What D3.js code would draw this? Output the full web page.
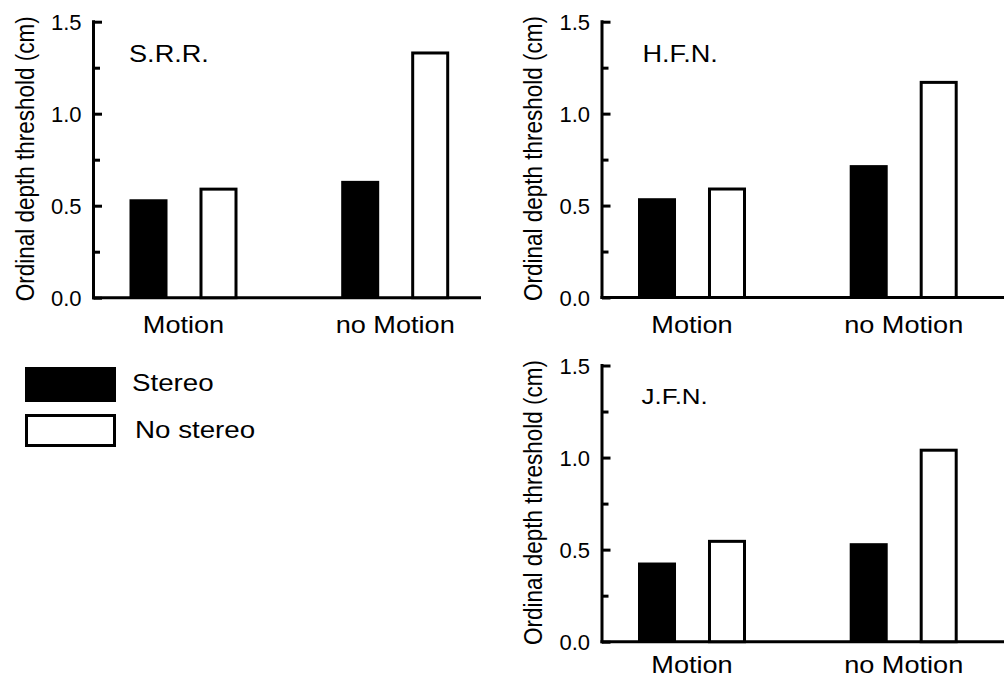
<!DOCTYPE html>
<html>
<head>
<meta charset="utf-8">
<script src="https://cdn.jsdelivr.net/npm/d3@7"></script>
<style>
  body { margin: 0; background: #fff; }
  svg text { font-family: "Liberation Sans", Arial, Helvetica, sans-serif; fill: #000; }
</style>
</head>
<body>
<svg id="chart" width="1004" height="680"></svg>
<script>
// categories and series
var groups = ["Motion", "no Motion"];
var seriesNames = ["Stereo", "No stereo"];
var subjects = ["S.R.R.", "H.F.N.", "J.F.N."];

// thresholds (cm), one array per subject and series: [Motion, no Motion]
var srrStereo = [0.535, 0.635];
var srrNoStereo = [0.59, 1.33];
var hfnStereo = [0.54, 0.72];
var hfnNoStereo = [0.59, 1.17];
var jfnStereo = [0.43, 0.535];
var jfnNoStereo = [0.545, 1.04];

var yTicks = [0, 0.5, 1.0, 1.5];
var yMinorTicks = [0.25, 0.75, 1.25];
var yTitle = "Ordinal depth threshold (cm)";

// the lettering in the original is a bit wide
var stretch = 1.18;

var svg = d3.select("#chart");

// panel placement
var panels = [
  {name: subjects[0], stereo: srrStereo, noStereo: srrNoStereo, left: 93.5, top: 21.7, bottom: 297.7, right: 481, labelDy: 35.5, titleDx: 35.5, titleDy: 40, titleSize: 23},
  {name: subjects[1], stereo: hfnStereo, noStereo: hfnNoStereo, left: 602, top: 21.7, bottom: 297.5, right: 1004, labelDy: 35.8, titleDx: 40.5, titleDy: 40, titleSize: 23},
  {name: subjects[2], stereo: jfnStereo, noStereo: jfnNoStereo, left: 602, top: 365.5, bottom: 641.7, right: 1004, labelDy: 31, titleDx: 39.5, titleDy: 38.5, titleSize: 22}
];

function wideText(sel, x, y, size, txt, anchor) {
  return sel.append("text")
    .attr("transform", "translate(" + x + "," + y + ") scale(" + stretch + ",1)")
    .attr("text-anchor", anchor || "start")
    .style("font-size", size + "px")
    .text(txt);
}

function drawPanel(p) {
  var g = svg.append("g");

  var y = d3.scaleLinear().domain([0, 1.5]).range([p.bottom, p.top]);
  var x0 = d3.scalePoint().domain(groups).range([p.left + 90, p.left + 301.7]);
  var x1 = d3.scaleBand().domain(seriesNames).range([-54, 54]).paddingInner(0.457);

  // minor ticks
  g.append("g")
    .attr("transform", "translate(" + p.left + ",0)")
    .call(d3.axisLeft(y).tickValues(yMinorTicks).tickSizeInner(-6.5).tickSizeOuter(0).tickFormat(""))
    .call(function(a) { a.select(".domain").remove(); })
    .selectAll("line").attr("stroke-width", 3);

  // main y axis
  var ya = g.append("g")
    .attr("transform", "translate(" + p.left + ",0)")
    .call(d3.axisLeft(y).tickValues(yTicks).tickSizeInner(-8.5).tickSizeOuter(0).tickPadding(12).tickFormat(d3.format(".1f")));
  ya.select(".domain").attr("stroke-width", 3).attr("d", "M0," + (p.bottom + 1.5) + "V" + (p.top - 1.5));
  ya.selectAll("line").attr("stroke-width", 3);
  ya.selectAll("text").style("font-size", "22px").attr("dy", "0.36em");

  // baseline
  g.append("line")
    .attr("x1", p.left - 1.5).attr("x2", p.right)
    .attr("y1", y(0)).attr("y2", y(0))
    .attr("stroke", "#000").attr("stroke-width", 3);

  // bars
  var rows = groups.map(function(gr, i) {
    return [{group: gr, key: seriesNames[0], v: p.stereo[i]}, {group: gr, key: seriesNames[1], v: p.noStereo[i]}];
  });
  var flat = [].concat.apply([], rows);

  g.selectAll(".bar")
    .data(flat)
    .enter().append("rect")
    .attr("class", "bar")
    .attr("x", function(d) { return x0(d.group) + x1(d.key) + (d.key == seriesNames[0] ? 0 : 1.5); })
    .attr("width", function(d) { return x1.bandwidth() - (d.key == seriesNames[0] ? 0 : 3); })
    .attr("y", function(d) { return y(d.v); })
    .attr("height", function(d) { return y(0) - y(d.v); })
    .attr("fill", function(d) { return d.key == seriesNames[0] ? "#000" : "#fff"; })
    .attr("stroke", function(d) { return d.key == seriesNames[0] ? "none" : "#000"; })
    .attr("stroke-width", 3);

  // group labels
  groups.forEach(function(d) {
    wideText(g, x0(d), y(0) + p.labelDy, 23, d, "middle");
  });

  // subject title
  wideText(g, p.left + p.titleDx, p.top + p.titleDy, p.titleSize, p.name);

  // y title
  g.append("text")
    .attr("transform", "translate(" + (p.left - 60) + "," + ((p.top + p.bottom) / 2 - 1) + ") scale(" + stretch + ",1) rotate(-90)")
    .attr("text-anchor", "middle")
    .style("font-size", "22.5px")
    .text(yTitle);
}

panels.forEach(drawPanel);

// legend
var legend = svg.append("g");
legend.append("rect")
  .attr("x", 25).attr("y", 367).attr("width", 91).attr("height", 35)
  .attr("fill", "#000");
legend.append("rect")
  .attr("x", 26.5).attr("y", 415.5).attr("width", 88).attr("height", 30)
  .attr("fill", "#fff").attr("stroke", "#000").attr("stroke-width", 3);
seriesNames.forEach(function(d, i) {
  wideText(legend, i == 0 ? 132 : 135, i == 0 ? 391 : 437.5, 23.5, d);
});
</script>
</body>
</html>
